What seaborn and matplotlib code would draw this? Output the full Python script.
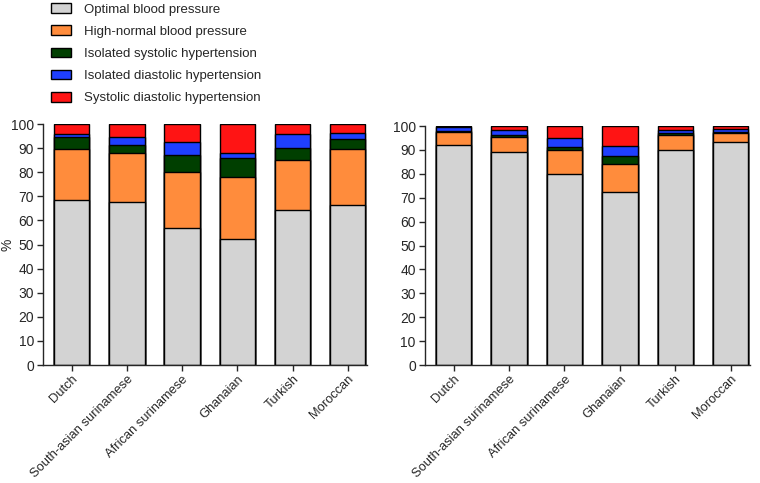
import numpy as np
import pandas as pd
import matplotlib
matplotlib.use("Agg")
import matplotlib.pyplot as plt
from matplotlib.patches import Patch
import seaborn as sns

groups = ["Dutch", "South-asian surinamese", "African surinamese", "Ghanaian", "Turkish", "Moroccan"]
categories = ["Optimal blood pressure", "High-normal blood pressure", "Isolated systolic hypertension",
              "Isolated diastolic hypertension", "Systolic diastolic hypertension"]
colors = ["#d3d3d3", "#ff8c3c", "#003f00", "#1f3fff", "#ff1414"]

# segment percentages per group (left panel)
left_optimal = [68.7, 67.7, 56.7, 52.4, 64.2, 66.6]
left_highnormal = [20.8, 20.2, 23.6, 25.5, 21.1, 22.9]
left_isys = [5.2, 3.6, 6.8, 8.2, 4.6, 4.5]
left_idia = [1.4, 3.1, 5.5, 2.1, 5.9, 2.5]
left_sysdia = [3.9, 5.4, 7.4, 11.8, 4.2, 3.5]

# right panel
right_optimal = [92.2, 89.0, 79.9, 72.3, 89.8, 93.2]
right_highnormal = [5.3, 6.3, 10.2, 11.8, 6.6, 3.7]
right_isys = [0.5, 0.9, 1.2, 3.3, 0.9, 0.7]
right_idia = [1.4, 2.1, 3.5, 4.1, 0.9, 1.0]
right_sysdia = [0.6, 1.7, 5.2, 8.5, 1.8, 1.4]

sns.set_style("ticks")
plt.rcParams['font.family'] = ['Liberation Sans', 'DejaVu Sans']
plt.rcParams['font.size'] = 9.5


def stacked(ax, segs):
    df = pd.DataFrame(dict(zip(categories, segs)), index=groups)
    cum = df.cumsum(axis=1)
    cum["group"] = groups
    # draw from the top layer down so lower layers cover the upper ones
    for cat, col in reversed(list(zip(categories, colors))):
        sns.barplot(data=cum, x="group", y=cat, color=col, saturation=1, width=0.64,
                    edgecolor="black", linewidth=1, ax=ax)
    ax.set_ylim(0, 100)
    ax.set_yticks(np.arange(0, 101, 10))
    ax.set_xlim(-0.52, 5.35)
    ax.set_xlabel("")
    ax.set_ylabel("")
    ax.tick_params(axis="y", labelsize=10, length=4, width=1, direction="out", pad=2.5)
    ax.tick_params(axis="x", labelsize=9.3, length=4, width=1, direction="out", pad=2)
    plt.setp(ax.get_xticklabels(), rotation=45, ha="right", rotation_mode="anchor")
    for s in ["top", "right"]:
        ax.spines[s].set_visible(False)
    for s in ["left", "bottom"]:
        ax.spines[s].set_linewidth(1)


fig = plt.figure(figsize=(7.6, 4.83), dpi=100)
ax1 = fig.add_axes([0.0566, 0.2443, 0.4264, 0.4987])
ax2 = fig.add_axes([0.559, 0.2443, 0.428, 0.4947])

stacked(ax1, [left_optimal, left_highnormal, left_isys, left_idia, left_sysdia])
stacked(ax2, [right_optimal, right_highnormal, right_isys, right_idia, right_sysdia])
fig.text(8 / 760, 1 - 245 / 483, "%", rotation=90, ha="center", va="center", fontsize=10)

handles = [Patch(facecolor=c, edgecolor="black", linewidth=1) for c in colors]
fig.legend(handles, categories, loc="upper left", bbox_to_anchor=(0.063, 0.999), frameon=False,
           fontsize=9.5, handlelength=1.55, handleheight=0.75, handletextpad=0.98, labelspacing=0.74,
           borderaxespad=0, borderpad=0.2)

fig.savefig("out.png", dpi=100)
